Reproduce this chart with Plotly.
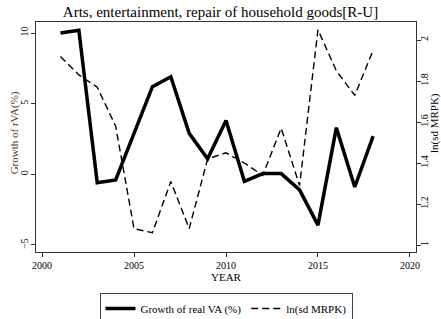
import plotly.graph_objects as go

years = list(range(2001, 2019))
growth_va = [10.0, 10.2, -0.6, -0.4, 2.9, 6.2, 6.9, 2.9, 1.1, 3.8, -0.5, 0.05, 0.05, -1.1, -3.6, 3.3, -0.9, 2.7]
ln_sd_mrpk = [1.92, 1.83, 1.77, 1.58, 1.08, 1.06, 1.31, 1.08, 1.42, 1.45, 1.40, 1.34, 1.57, 1.29, 2.05, 1.85, 1.73, 1.95]

x_ticks = [2000, 2005, 2010, 2015, 2020]
y_ticks = [-5, 0, 5, 10]
y2_ticks = [1, 1.2, 1.4, 1.6, 1.8, 2]
y2_labels = ["1", "1.2", "1.4", "1.6", "1.8", "2"]

FONT = "Liberation Serif"
AX = "#333333"

fig = go.Figure()
fig.add_trace(go.Scatter(x=years, y=growth_va, mode="lines", name="Growth of real VA (%)",
                         line=dict(color="black", width=3.5), yaxis="y"))
fig.add_trace(go.Scatter(x=years, y=ln_sd_mrpk, mode="lines", name="ln(sd MRPK)",
                         line=dict(color="black", width=1.4, dash="7px,4px"), yaxis="y2"))

fig.update_layout(
    width=441, height=319,
    margin=dict(l=36, r=25, t=22, b=67, autoexpand=False),
    paper_bgcolor="white", plot_bgcolor="white",
    font=dict(family=FONT, color="black", size=10),
    title=dict(text="Arts, entertainment, repair of household goods[R-U]", x=0.5, xanchor="center",
               y=0.962, yanchor="middle", font=dict(family=FONT, size=15, color="black")),
    xaxis=dict(range=[1999.67, 2020.33], tickvals=x_ticks, ticks="outside", ticklen=4,
               tickcolor=AX, showline=True, linecolor=AX, linewidth=1, mirror=True,
               showgrid=False, zeroline=False, tickfont=dict(size=10),
               title=dict(text="YEAR", font=dict(size=11), standoff=2)),
    yaxis=dict(range=[-5.50, 10.78], tickvals=y_ticks, ticks="outside", ticklen=4,
               tickcolor=AX, showline=True, linecolor=AX, linewidth=1, mirror=True,
               showgrid=False, zeroline=False, tickangle=-90, tickfont=dict(size=10),
               ticklabelstandoff=-1),
    yaxis2=dict(range=[0.966, 2.088], tickvals=y2_ticks, ticktext=y2_labels, overlaying="y",
                side="right", ticks="outside", ticklen=4, tickcolor=AX, showline=False,
                showgrid=False, zeroline=False, tickangle=-90, tickfont=dict(size=10),
                ticklabelstandoff=-5),
    legend=dict(orientation="h", x=0.5, xanchor="center", y=-0.178, yanchor="top",
                bordercolor="#444444", borderwidth=1, font=dict(size=11),
                itemwidth=30, tracegroupgap=0),
    showlegend=True,
    annotations=[
        dict(text="Growth of rVA(%)", xref="paper", yref="paper", textangle=-90,
             x=-0.058, y=0.52, xanchor="center", yanchor="middle", showarrow=False,
             font=dict(size=11, color="#5c3a2e", family=FONT)),
        dict(text="ln(sd MRPK)", xref="paper", yref="paper", textangle=-90,
             x=1.047, y=0.56, xanchor="center", yanchor="middle", showarrow=False,
             font=dict(size=11, color="black", family=FONT)),
    ],
)

fig.write_html("out.html", config={"displayModeBar": False},
               post_script="document.body.style.margin='0';")
